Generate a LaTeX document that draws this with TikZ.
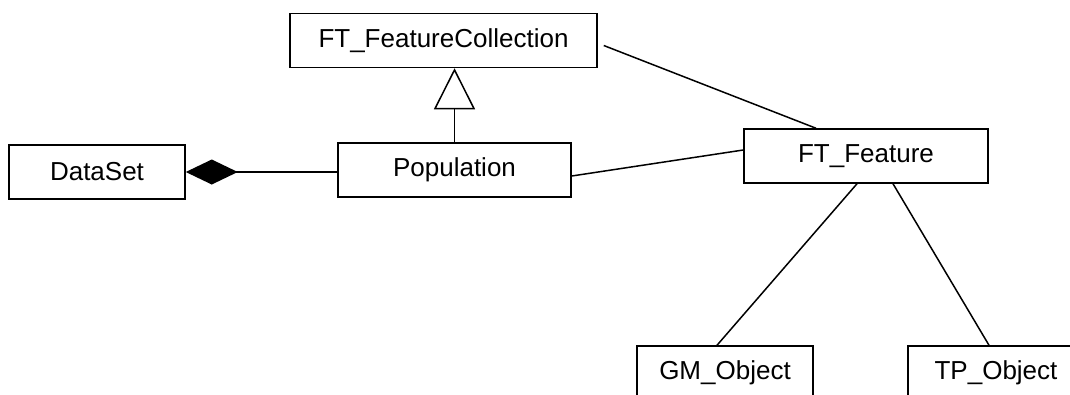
\documentclass[tikz,border=0pt]{standalone}
\usepackage{fontspec}
\setmainfont{Liberation Sans}
\usetikzlibrary{arrows.meta}

\begin{document}
\begin{tikzpicture}[
  x=1pt, y=-1pt,
  every node/.style={rectangle, draw, line width=1.5pt, minimum height=54pt, inner sep=0pt,
    font=\fontsize{26}{30}\selectfont},
  assoc/.style={draw, line width=1.5pt}
]
\path[use as bounding box, clip] (0,0) rectangle (1070,394);

\node[minimum width=307pt] (ftc) at (443.5,40.5) {FT\_FeatureCollection};
\node[minimum width=176pt] (ds) at (97,172) {DataSet};
\node[minimum width=233pt] (pop) at (454.5,170) {Population};
\node[minimum width=244pt] (feat) at (866,156) {FT\_Feature};
\node[minimum width=176pt] (gm) at (725,373) {GM\_Object};
\node[minimum width=176pt] (tp) at (996,373) {TP\_Object};

% generalisation and aggregation
\draw[assoc, -{Triangle[open, length=41pt, width=41pt]}] (pop.north) -- (pop.north |- ftc.south);
\draw[assoc, {Diamond[length=52pt, width=25pt]}-] (ds.east) -- (ds.east -| pop.west);

% associations
\draw[assoc] ([yshift=-6pt]pop.east) -- ([yshift=6pt]feat.west);
\draw[assoc] ([xshift=6pt, yshift=-5pt]ftc.east) -- ([xshift=-50pt]feat.north);
\draw[assoc] ([xshift=-9pt]feat.south) -- ([xshift=-8pt]gm.north);
\draw[assoc] ([xshift=27pt]feat.south) -- ([xshift=-7pt]tp.north);
\end{tikzpicture}
\end{document}
